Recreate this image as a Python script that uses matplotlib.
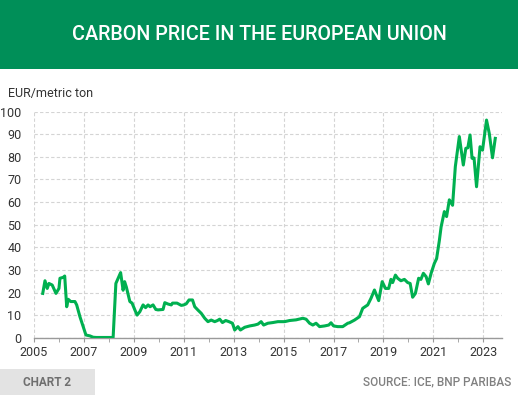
import matplotlib
matplotlib.use("Agg")
import matplotlib.pyplot as plt
from matplotlib.patches import Rectangle
from matplotlib.ticker import MultipleLocator

# EU carbon price (EUR/metric ton)
years = [
    2005.35, 2005.44, 2005.53, 2005.60, 2005.73, 2005.88, 2006.00, 2006.04, 2006.17, 2006.23,
    2006.31, 2006.37, 2006.47, 2006.64, 2006.71, 2006.84, 2006.97, 2007.08, 2007.24, 2007.37,
    2007.50, 2007.80, 2008.17, 2008.28, 2008.37, 2008.47, 2008.57, 2008.63, 2008.70, 2008.84,
    2008.93, 2009.04, 2009.13, 2009.24, 2009.37, 2009.47, 2009.57, 2009.65, 2009.77, 2009.88,
    2009.97, 2010.17, 2010.24, 2010.37, 2010.50, 2010.55, 2010.73, 2010.90, 2011.00, 2011.10,
    2011.21, 2011.35, 2011.44, 2011.57, 2011.70, 2011.84, 2011.97, 2012.10, 2012.24, 2012.35,
    2012.44, 2012.55, 2012.68, 2012.81, 2012.95, 2013.04, 2013.17, 2013.27, 2013.44, 2013.64,
    2013.84, 2013.97, 2014.10, 2014.20, 2014.37, 2014.57, 2014.77, 2015.04, 2015.24, 2015.50,
    2015.77, 2015.90, 2016.04, 2016.17, 2016.30, 2016.44, 2016.64, 2016.81, 2016.90, 2017.00,
    2017.17, 2017.37, 2017.57, 2017.64, 2017.84, 2018.04, 2018.17, 2018.37, 2018.50, 2018.64,
    2018.81, 2018.95, 2019.08, 2019.21, 2019.30, 2019.37, 2019.48, 2019.57, 2019.70, 2019.84,
    2019.97, 2020.07, 2020.17, 2020.28, 2020.41, 2020.50, 2020.60, 2020.71, 2020.80, 2020.91,
    2021.04, 2021.13, 2021.24, 2021.31, 2021.44, 2021.53, 2021.64, 2021.77, 2021.88, 2022.04,
    2022.20, 2022.30, 2022.38, 2022.47, 2022.55, 2022.63, 2022.73, 2022.87, 2022.97, 2023.13,
    2023.24, 2023.37, 2023.48,
]
prices = [
    19.6, 25.2, 21.8, 24.0, 23.3, 19.6, 21.8, 26.3, 26.7, 27.3,
    13.7, 17.0, 16.0, 16.0, 14.5, 9.3, 4.9, 1.2, 0.8, 0.2,
    0.1, 0.1, 0.1, 24.0, 26.3, 28.8, 21.0, 24.8, 22.4, 16.0,
    15.3, 12.3, 10.0, 11.5, 14.5, 13.3, 14.5, 13.7, 14.5, 12.5,
    12.3, 12.5, 15.5, 14.9, 14.5, 15.3, 15.3, 14.3, 14.5, 15.0,
    16.7, 16.7, 13.7, 12.2, 10.8, 8.6, 7.1, 7.8, 7.1, 7.6,
    8.2, 6.7, 7.6, 7.1, 6.4, 3.4, 4.9, 3.4, 4.6, 5.2,
    5.6, 6.0, 7.1, 5.6, 6.4, 6.7, 7.1, 7.1, 7.6, 7.9,
    8.6, 8.2, 6.4, 5.6, 6.4, 4.9, 5.2, 5.6, 6.6, 5.2,
    4.9, 4.9, 6.4, 6.6, 7.8, 9.3, 13.0, 14.5, 17.4, 21.1,
    16.4, 24.8, 21.8, 21.8, 25.8, 24.4, 27.7, 26.3, 25.2, 25.8,
    24.4, 24.0, 17.9, 19.6, 26.3, 25.8, 28.5, 27.0, 23.8, 28.5,
    32.9, 35.0, 43.0, 49.0, 55.8, 53.6, 61.0, 58.6, 75.7, 89.0,
    76.4, 83.8, 84.0, 89.7, 79.4, 79.5, 66.8, 84.5, 83.0, 96.3,
    90.4, 79.6, 88.2,
]

title = "CARBON PRICE IN THE EUROPEAN UNION"
unit_label = "EUR/metric ton"
chart_tag = "CHART 2"
source = "SOURCE: ICE, BNP PARIBAS"
label_years = list(range(2005, 2024, 2))

green_banner = "#008f58"
line_green = "#00b050"
grid_grey = "#d4d4d4"
text_dark = "#333333"

plt.rcParams['font.family'] = ['Roboto', 'DejaVu Sans']

fig = plt.figure(figsize=(5.18, 3.95), dpi=100)

# header banner
fig.patches.append(Rectangle((0, 1 - 69 / 395), 1, 69 / 395, transform=fig.transFigure,
                             facecolor=green_banner, edgecolor="none", zorder=0))
fig.text(0.5, 1 - 35 / 395, title, color="white", fontsize=14.2, fontweight="medium",
         ha="center", va="center")

# footer
fig.patches.append(Rectangle((0, 0), 95 / 518, 26 / 395, transform=fig.transFigure,
                             facecolor="#e3e3e3", edgecolor="none", zorder=0))
fig.text(47 / 518, 13 / 395, chart_tag, color="#6f6f6f", fontsize=8.5, fontweight="bold",
         ha="center", va="center")
fig.text(511 / 518, 13 / 395, source, color="#808080", fontsize=8.5, fontweight="medium",
         ha="right", va="center")

fig.text(8 / 518, 1 - 93 / 395, unit_label, color=text_dark, fontsize=9, ha="left", va="center")

ax = fig.add_axes([34 / 518, 1 - 337.7 / 395, (502 - 34) / 518, (337.7 - 111.7) / 395])
ax.plot(years, prices, color=line_green, linewidth=2.2, solid_joinstyle="round", zorder=3)

ax.set_xlim(2005, 2023.75)
ax.set_ylim(0, 100)
ax.set_xticks(label_years)
ax.set_xticklabels([str(y) for y in label_years])
ax.xaxis.set_minor_locator(MultipleLocator(1))
ax.yaxis.set_major_locator(MultipleLocator(10))

ax.grid(True, which="major", color=grid_grey, linestyle=(0, (3, 2)), linewidth=0.8)
ax.set_axisbelow(True)
for side in ["left", "right", "top"]:
    ax.spines[side].set_visible(False)
ax.spines["bottom"].set_color("#9a9a9a")
ax.spines["bottom"].set_linewidth(1.0)

ax.tick_params(axis="x", which="both", length=3, color="#9a9a9a", labelsize=9,
               labelcolor=text_dark, pad=3)
ax.tick_params(axis="y", length=0, labelsize=9, labelcolor=text_dark, pad=9)

fig.savefig("out.png", dpi=100)
